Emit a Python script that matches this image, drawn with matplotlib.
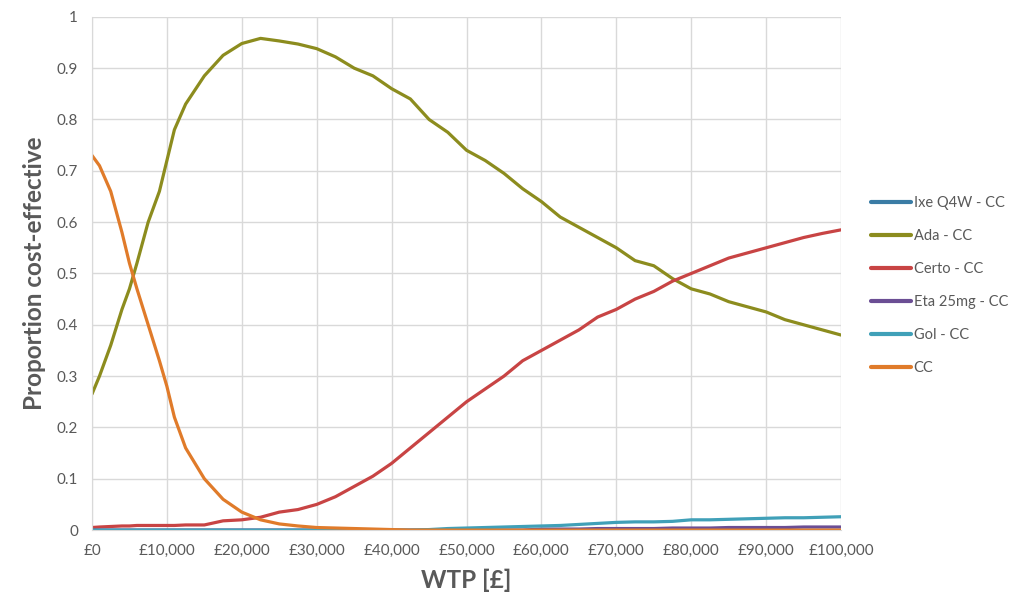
import numpy as np
import matplotlib.pyplot as plt
from matplotlib.ticker import FuncFormatter

plt.rcParams['font.family'] = ['Lato', 'DejaVu Sans']

# WTP thresholds (GBP) and proportion cost-effective per option
wtp = [0, 1000, 2500, 4000, 5000, 6000, 7500, 9000, 10000, 11000, 12500,
       15000, 17500, 20000, 22500, 25000, 27500, 30000, 32500, 35000, 37500,
       40000, 42500, 45000, 47500, 50000, 52500, 55000, 57500, 60000, 62500,
       65000, 67500, 70000, 72500, 75000, 77500, 80000, 82500, 85000, 87500,
       90000, 92500, 95000, 97500, 100000]

ixe = [0.0] * len(wtp)
ada = [0.265, 0.30, 0.36, 0.43, 0.47, 0.52, 0.60, 0.66, 0.72, 0.78, 0.83,
       0.885, 0.925, 0.948, 0.958, 0.953, 0.947, 0.938, 0.922, 0.90, 0.885,
       0.86, 0.84, 0.80, 0.775, 0.74, 0.72, 0.695, 0.665, 0.64, 0.61,
       0.59, 0.57, 0.55, 0.525, 0.515, 0.49, 0.47, 0.46, 0.445, 0.435,
       0.425, 0.41, 0.40, 0.39, 0.38]
certo = [0.005, 0.006, 0.007, 0.008, 0.008, 0.009, 0.009, 0.009, 0.009, 0.009, 0.01,
         0.01, 0.018, 0.02, 0.025, 0.035, 0.04, 0.05, 0.065, 0.085, 0.105,
         0.13, 0.16, 0.19, 0.22, 0.25, 0.275, 0.30, 0.33, 0.35, 0.37,
         0.39, 0.415, 0.43, 0.45, 0.465, 0.485, 0.50, 0.515, 0.53, 0.54,
         0.55, 0.56, 0.57, 0.578, 0.585]
eta = [0.0] * 29 + [0.002, 0.002, 0.002, 0.003, 0.003, 0.003, 0.003, 0.004,
                    0.004, 0.004, 0.005, 0.005, 0.005, 0.005, 0.006, 0.006, 0.006]
gol = [0.0] * 23 + [0.001, 0.003, 0.004, 0.005, 0.006, 0.007, 0.008, 0.009,
                    0.011, 0.013, 0.015, 0.016, 0.016, 0.017, 0.020, 0.020, 0.021,
                    0.022, 0.023, 0.024, 0.024, 0.025, 0.026]
cc = [0.73, 0.71, 0.66, 0.58, 0.52, 0.47, 0.40, 0.33, 0.28, 0.22, 0.16,
      0.10, 0.06, 0.035, 0.02, 0.012, 0.008, 0.005, 0.004, 0.003, 0.002,
      0.001] + [0.0] * 24

series = [("Ixe Q4W - CC", ixe, "#3A7CA5"),
          ("Ada - CC", ada, "#8C8C1E"),
          ("Certo - CC", certo, "#C84444"),
          ("Eta 25mg - CC", eta, "#6B4E94"),
          ("Gol - CC", gol, "#40A0B8"),
          ("CC", cc, "#E07B2A")]

fig = plt.figure(figsize=(10.12, 6.01), dpi=100)
ax = fig.add_axes([0.0909, 0.118, 0.7402, 0.854])

for name, vals, col in series:
    ax.plot(wtp, vals, color=col, lw=2.3, label=name, solid_capstyle='round')

ax.set_xlim(0, 100000)
ax.set_ylim(0, 1)
ax.set_xticks(np.arange(0, 100001, 10000))
ax.set_yticks(np.arange(0, 1.01, 0.1))
ax.xaxis.set_major_formatter(FuncFormatter(lambda v, p: f"£{int(v):,}"))
ax.yaxis.set_major_formatter(FuncFormatter(lambda v, p: "0" if v == 0 else ("1" if abs(v - 1) < 1e-9 else f"{v:.1f}")))
ax.grid(True, color="#D9D9D9", lw=1)
ax.set_axisbelow(True)
for s in ax.spines.values():
    s.set_visible(False)
ax.spines['left'].set_visible(True)
ax.spines['left'].set_color("#D9D9D9")
ax.spines['bottom'].set_visible(True)
ax.spines['bottom'].set_color("#D9D9D9")
ax.tick_params(length=0, labelsize=11, labelcolor="#595959", pad=10)

ax.set_xlabel("WTP [£]", fontsize=17.5, fontweight='bold', color="#595959", labelpad=8)
ax.set_ylabel("Proportion cost-effective", fontsize=17.5, fontweight='bold', color="#595959", labelpad=8)

leg = ax.legend(loc='center left', bbox_to_anchor=(1.022, 0.476), frameon=False,
                fontsize=10.5, labelspacing=1.3, handlelength=2.75, handletextpad=0.2)
for t in leg.get_texts():
    t.set_color("#595959")
for h in leg.get_lines():
    h.set_linewidth(3)

fig.savefig("out.png", dpi=100)
